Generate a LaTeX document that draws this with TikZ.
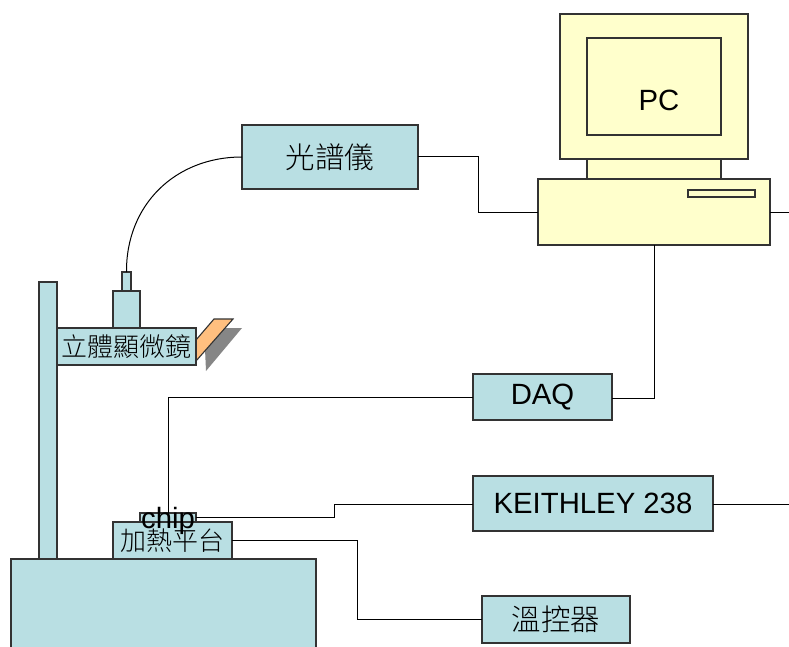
\documentclass[tikz,border=0pt]{standalone}
\usepackage{fontspec}
\setmainfont{Liberation Sans}
\newfontfamily\cjk{Noto Sans CJK TC Light}
\tikzset{
  base/.style={draw=black!80,line width=1.1pt,inner sep=0pt,outer sep=0pt,text=black,anchor=center},
  teal/.style={base,fill=tealfill},
  yel/.style={base,fill=yelfill},
  wire/.style={draw=black,line width=1pt},
  lbl/.style={font=\fontsize{29.3}{30}\selectfont},
  cjkA/.style={font=\cjk\fontsize{29.5}{30}\selectfont},
  cjkB/.style={font=\cjk\fontsize{26}{28}\selectfont},
}
\definecolor{tealfill}{HTML}{B9DFE3}
\definecolor{yelfill}{HTML}{FFFFCC}
\definecolor{orangefill}{HTML}{FFBF7F}
\begin{document}
\begin{tikzpicture}[x=1pt,y=-1pt]
\useasboundingbox (0,0) rectangle (789,647);
% shadow and mirror
\fill[gray!95] (205,349) -- (223,328) -- (242,328) -- (206,371) -- cycle;
\draw[base,fill=orangefill] (196,340) -- (214,319) -- (233,319) -- (196,361) -- cycle;
% PC
\node[yel,minimum width=188pt,minimum height=145pt] (monitor) at (654,86.5) {};
\node[yel,minimum width=134pt,minimum height=97pt] (screen) at (654,86.5) {};
\node[lbl] (pc) at (659,100) {PC};
\node[yel,minimum width=134pt,minimum height=20pt] (neck) at (654,169) {};
\node[yel,minimum width=232pt,minimum height=66pt] (tower) at (654,212) {};
\node[yel,minimum width=67pt,minimum height=7pt] (slot) at (721.5,193.5) {};
% boxes
\node[teal,cjkA,minimum width=176pt,minimum height=64pt] (spec) at (330,157) {光譜儀};
\node[teal,minimum width=9pt,minimum height=19pt] (eye) at (126.5,281.5) {};
\node[teal,minimum width=27pt,minimum height=37pt] (tube) at (126.5,309.5) {};
\node[teal,minimum width=18pt,minimum height=278pt] (pole) at (48,421) {};
\node[teal,cjkB,minimum width=139pt,minimum height=37pt] (scope) at (126.5,346.5) {\raisebox{-1pt}{立體顯微鏡}};
\node[teal,minimum width=305pt,minimum height=110pt] (stage) at (163.5,614) {};
\node[teal,cjkB,minimum width=119pt,minimum height=37pt] (heater) at (172.5,540.5) {\raisebox{-1pt}{加熱平台}};
\node[teal,minimum width=56pt,minimum height=9pt] (chip) at (168,517.5) {};
\node[teal,lbl,minimum width=139pt,minimum height=46pt] (daq) at (542.5,397) {\raisebox{-1pt}{DAQ}};
\node[teal,lbl,minimum width=240pt,minimum height=55pt] (keithley) at (593,503.5) {KEITHLEY 238};
\node[teal,cjkA,minimum width=148pt,minimum height=47pt] (temp) at (556,619.5) {溫控器};
\node[lbl,inner sep=0pt] (chiptext) at (168,520.5) {chip};
% free ends
\coordinate (e1) at (789,212);
\coordinate (e2) at (789,504);
% connectors
\draw[wire] (spec.west) .. controls (175,157) and (126,205) .. (eye.north);
\draw[wire] (spec.east) -- (478,157) -- (478,212) -- (tower.west);
\draw[wire] (tower.east) -- (e1);
\draw[wire] (tower.south) -- (654,398) -- (daq.east |- 0,398);
\draw[wire] (daq.west) -- (168,397) -- (chip.north);
\draw[wire] (chip.east) -- (334,517.5) -- (334,504) -- (keithley.west |- 0,504);
\draw[wire] (keithley.east |- 0,504) -- (e2);
\draw[wire] (heater.east) -- (357,540.5) -- (357,619.5) -- (temp.west);
\end{tikzpicture}
\end{document}
